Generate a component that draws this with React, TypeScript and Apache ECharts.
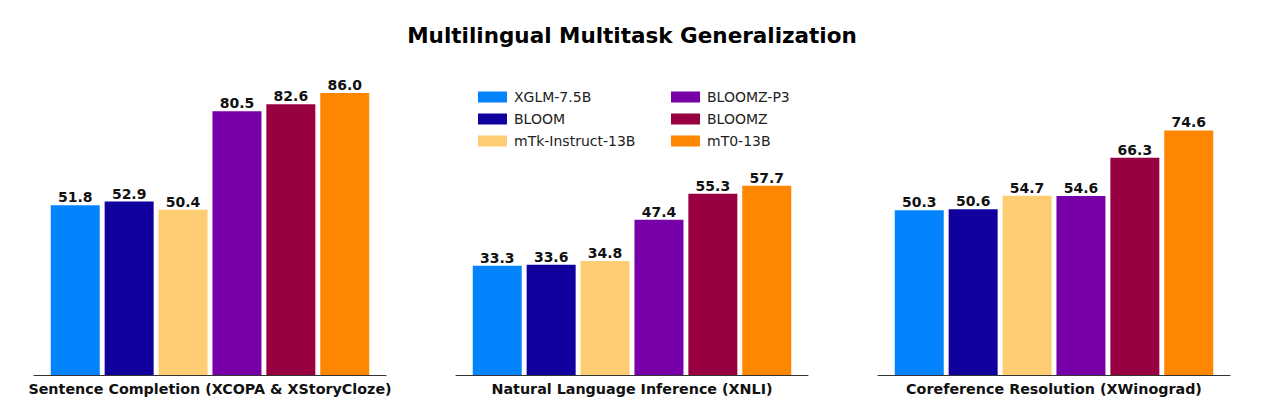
import React, { useEffect, useRef } from "react";
import * as echarts from "echarts";

const categories = [
  "Sentence Completion (XCOPA & XStoryCloze)",
  "Natural Language Inference (XNLI)",
  "Coreference Resolution (XWinograd)",
];
const models = ["XGLM-7.5B", "BLOOM", "mTk-Instruct-13B", "BLOOMZ-P3", "BLOOMZ", "mT0-13B"];
const colors = ["#0384fc", "#10009d", "#fecc72", "#7700a8", "#990042", "#fe8600"];

const xglm = [51.8, 33.3, 50.3];
const bloom = [52.9, 33.6, 50.6];
const mtk = [50.4, 34.8, 54.7];
const bloomzP3 = [80.5, 47.4, 54.6];
const bloomz = [82.6, 55.3, 66.3];
const mt0 = [86.0, 57.7, 74.6];
const values = [xglm, bloom, mtk, bloomzP3, bloomz, mt0];

const FONT = "DejaVu Sans";

export default function App() {
  const ref = useRef<HTMLDivElement>(null);
  useEffect(() => {
    if (!ref.current) return;
    const chart = echarts.init(ref.current, undefined, { renderer: "svg" });
    const grids = categories.map((_, g) => ({
      left: 34 + g * 422,
      width: 352,
      top: 80,
      height: 295,
    }));
    const xAxis = categories.map((c, g) => ({
      type: "category",
      gridIndex: g,
      data: [c],
      axisTick: { show: false },
      axisLine: { lineStyle: { color: "#333", width: 1 } },
      axisLabel: {
        color: "#111",
        fontSize: 14.3,
        fontWeight: "bold",
        fontFamily: FONT,
        margin: 7,
      },
    }));
    const yAxis = categories.map((_, g) => ({
      type: "value",
      gridIndex: g,
      min: 0,
      max: 90,
      show: false,
    }));
    const series: any[] = [];
    categories.forEach((_, g) => {
      models.forEach((m, i) => {
        series.push({
          type: "bar",
          name: m,
          xAxisIndex: g,
          yAxisIndex: g,
          data: [values[i][g]],
          barWidth: 49,
          barGap: "10%",
          itemStyle: { color: colors[i] },
          label: {
            show: true,
            position: "top",
            distance: 1,
            color: "#111",
            fontSize: 14,
            fontWeight: "bold",
            fontFamily: FONT,
            formatter: (p: any) => Number(p.value).toFixed(1),
          },
        });
      });
    });
    const legendBase = {
      orient: "vertical",
      icon: "rect",
      itemWidth: 29,
      itemHeight: 11,
      itemGap: 8,
      textStyle: { fontSize: 14, color: "#222", fontFamily: FONT, padding: [0, 0, 0, 2] },
    };
    chart.setOption({
      animation: false,
      color: colors,
      title: {
        text: "Multilingual Multitask Generalization",
        left: "center",
        top: 19,
        textStyle: { fontSize: 21.5, fontWeight: "bold", color: "#000", fontFamily: FONT },
      },
      legend: [
        { ...legendBase, left: 473, top: 85, data: models.slice(0, 3) },
        { ...legendBase, left: 666, top: 85, data: models.slice(3) },
      ],
      grid: grids,
      xAxis,
      yAxis,
      series,
    });
    return () => chart.dispose();
  }, []);
  return (
    <div
      ref={ref}
      style={{ position: "fixed", left: 0, top: 0, width: 1264, height: 419, background: "#fff" }}
    />
  );
}
